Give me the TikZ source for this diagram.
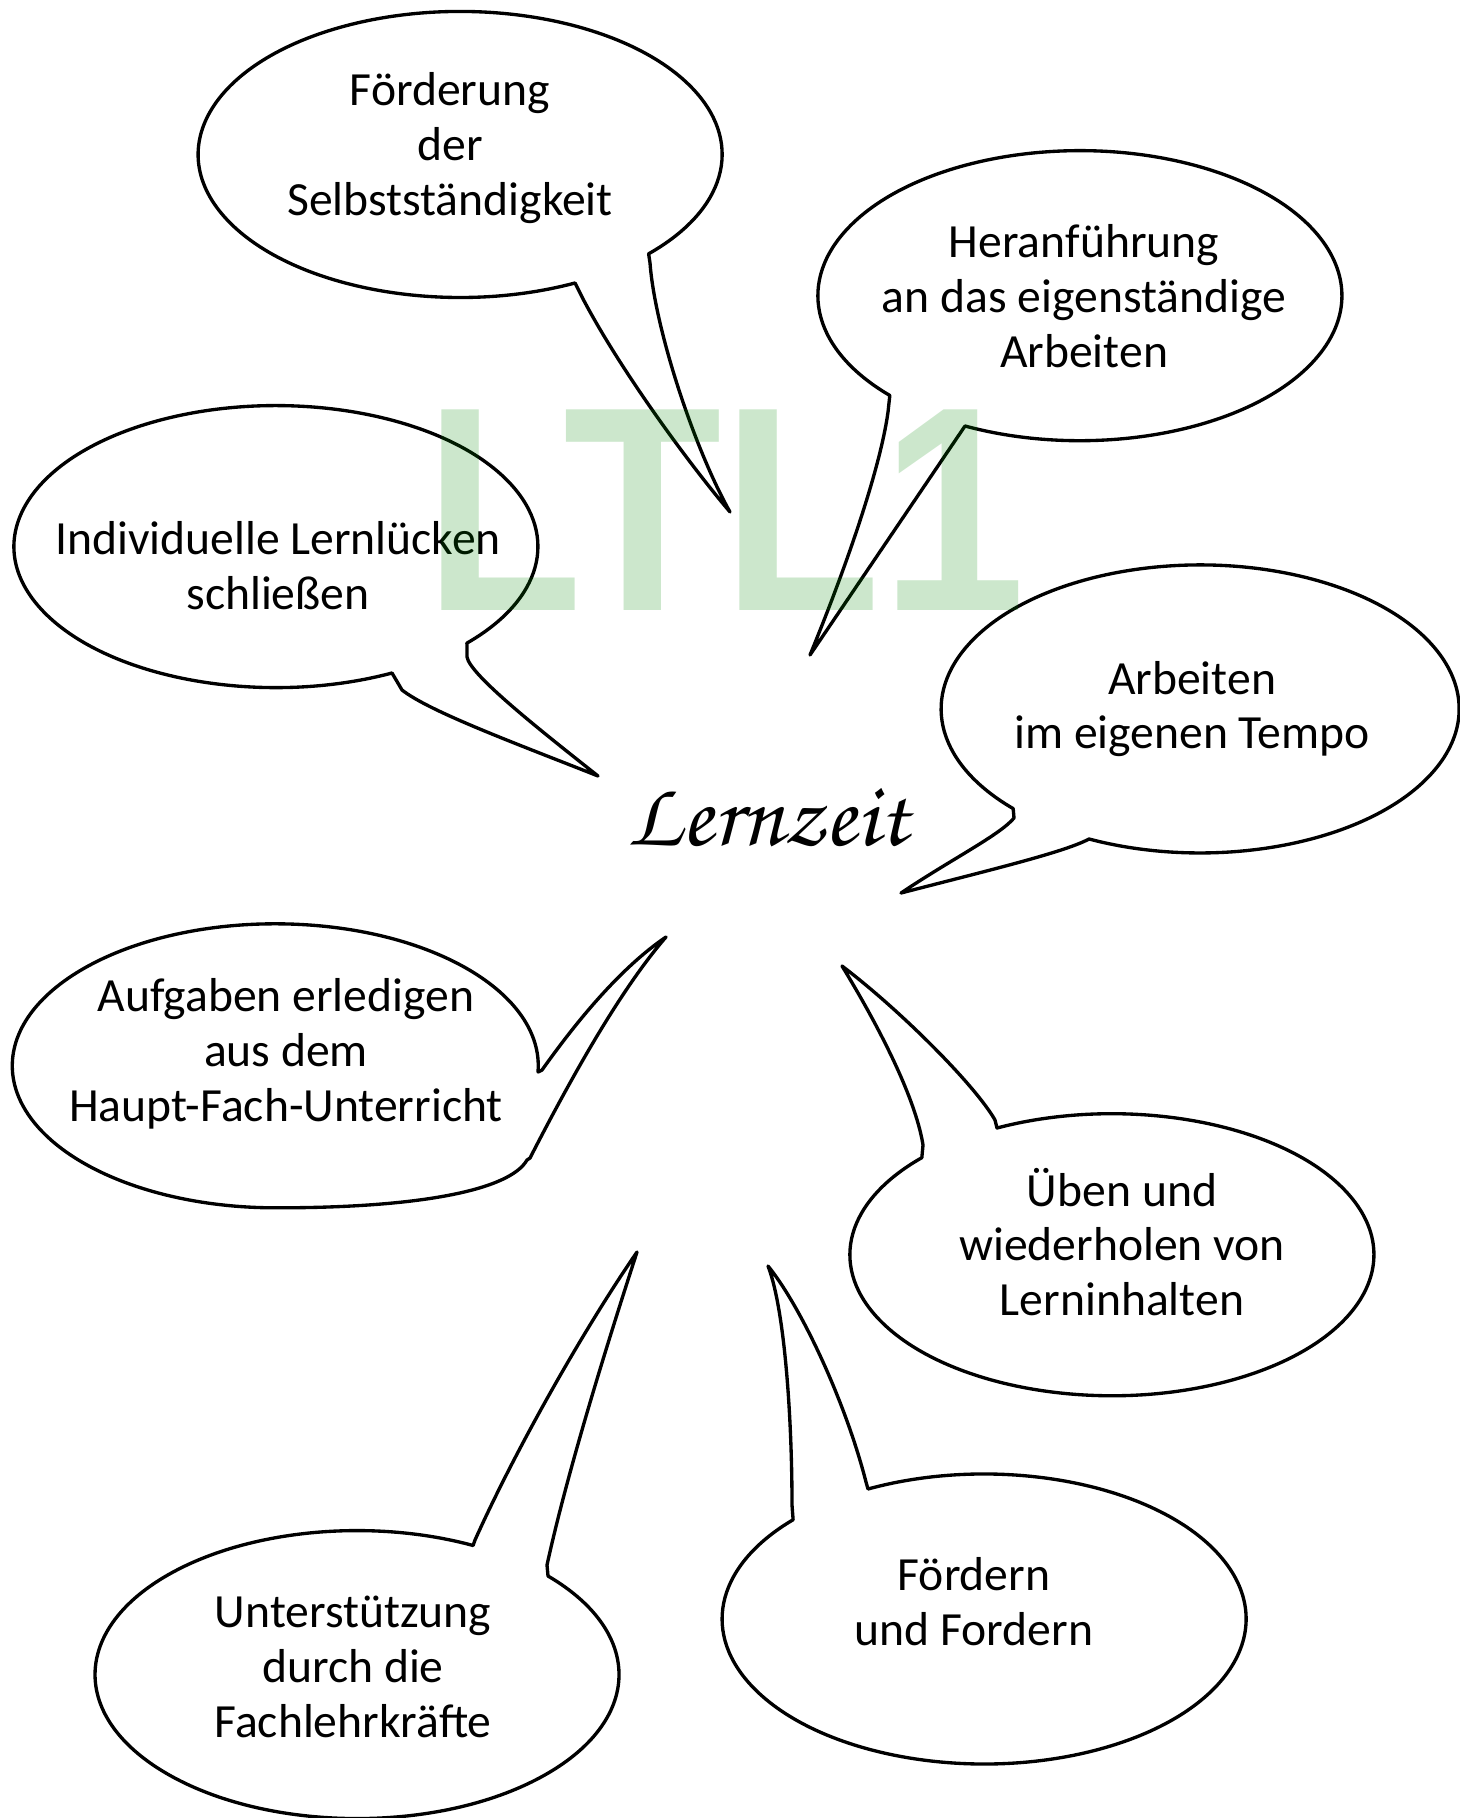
\documentclass[tikz,border=0pt]{standalone}
\usepackage[T1,TU]{fontenc}
\usepackage{fontspec}
\usepackage{graphicx}
\setmainfont{Carlito}
\newfontfamily\wmfont{Liberation Sans}
\newcommand\lzfont{\fontencoding{T1}\fontfamily{pzc}\fontseries{mb}\fontshape{it}\selectfont}
\definecolor{wmgreen}{RGB}{0,135,0}
\tikzset{
  bubble/.style={line width=0.95pt, line join=round},
  bubbletext/.style={align=center, inner sep=0pt, font=\fontsize{13.55}{15.6}\selectfont}
}
\begin{document}
\begin{tikzpicture}[x=0.1mm, y=-0.1mm]
        \useasboundingbox (0,0) rectangle (1459,1818);

        % Speech bubbles, top row
        \draw[bubble] (575,283) arc[start angle=64, end angle=404, x radius=262, y radius=143]
            -- (650,263) .. controls (655,330) and (695,450) .. (730,512)
            .. controls (690,465) and (620,370) .. (582,297) -- cycle;
        \node[bubbletext] (foerderung) at (450,148) {Förderung\\der\\Selbstständigkeit};

        \draw[bubble] (965,426) arc[start angle=116, end angle=-223.5, x radius=262, y radius=145]
            -- (888,412) .. controls (880,470) and (845,570) .. (810,655) -- cycle;
        \node[bubbletext] (heranfuehrung) at (1084,296) {Heranführung\\an das eigenständige\\Arbeiten};

        % Speech bubbles, middle
        \draw[bubble] (392,673) arc[start angle=63.7, end angle=403.2, x radius=262, y radius=141]
            -- (467,657) .. controls (470,675) and (540,730) .. (598,776)
            .. controls (520,745) and (430,712) .. (402,690) -- cycle;
        \node[bubbletext] (luecken) at (278,566) {Individuelle Lernlücken\\schließen};

        \draw[bubble] (1089,839) arc[start angle=115.4, end angle=-223.8, x radius=259, y radius=144]
            -- (1014,818) .. controls (1000,835) and (950,860) .. (901,893)
            .. controls (990,870) and (1065,852) .. cycle;
        \node[bubbletext] (tempo) at (1192,709) {Arbeiten\\im eigenen Tempo};

        \draw[bubble] (538,1072) arc[start angle=2.5, end angle=-270, x radius=263, y radius=142]
            .. controls (420,1208) and (510,1190) .. (527,1160)
            -- (530,1158) .. controls (570,1080) and (620,990) .. (666,937)
            .. controls (610,975) and (560,1045) .. (542,1070) -- cycle;
        \node[bubbletext] (aufgaben) at (286,1054) {Aufgaben erledigen\\aus dem\\Haupt-Fach-Unterricht};

        \draw[bubble] (997,1128) arc[start angle=244, end angle=583.5, x radius=262, y radius=141]
            -- (923,1145) .. controls (915,1095) and (875,1020) .. (842,966)
            .. controls (900,1010) and (975,1085) .. (995,1120) -- cycle;
        \node[bubbletext] (ueben) at (1122,1242) {Üben und\\wiederholen von\\Lerninhalten};

        % Speech bubbles, bottom row
        \draw[bubble] (548,1576) arc[start angle=-43.2, end angle=296.3, x radius=262, y radius=144]
            -- (475,1540) .. controls (520,1440) and (590,1320) .. (637,1252)
            .. controls (615,1320) and (570,1460) .. (547,1565) -- cycle;
        \node[bubbletext] (unterstuetzung) at (353,1667) {Unterstützung\\durch die\\Fachlehrkräfte};

        \draw[bubble] (868,1489) arc[start angle=243.7, end angle=583.2, x radius=262, y radius=145]
            -- (792,1505) .. controls (792,1420) and (785,1310) .. (768,1266)
            .. controls (800,1305) and (845,1400) .. (866,1482) -- cycle;
        \node[bubbletext] (fordern) at (974,1602) {Fördern\\und Fordern};

        % Title in the middle
        \node[inner sep=0pt] (lernzeit) at (768,818) {\resizebox{2.8cm}{!}{\lzfont Lernzeit}};

        % Watermark on top
        \node[inner sep=0pt, text=wmgreen, text opacity=0.2] (wasserzeichen) at (725,510)
            {\scalebox{0.89}[1]{\wmfont\bfseries\fontsize{83}{83}\selectfont LTL1}};
\end{tikzpicture}
\end{document}
